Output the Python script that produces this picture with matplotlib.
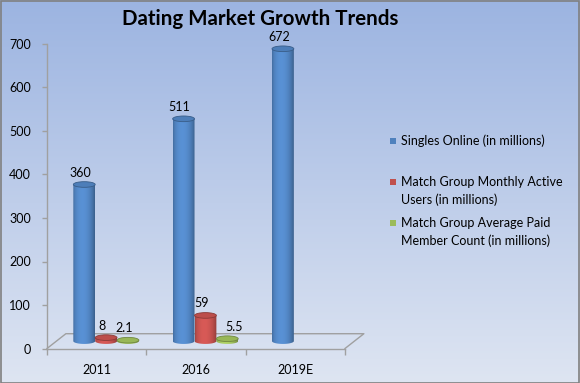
import numpy as np
import matplotlib
matplotlib.use("Agg")
import matplotlib.pyplot as plt
import matplotlib.colors as mcolors
from matplotlib.patches import Ellipse, Rectangle, PathPatch
from matplotlib.path import Path

# ---------------- data ----------------
categories = ["2011", "2016", "2019E"]
series_names = ["Singles Online (in millions)",
                "Match Group Monthly Active\nUsers (in millions)",
                "Match Group Average Paid\nMember Count (in millions)"]
singles_online = [360, 511, 672]
monthly_active = [8, 59, None]
paid_members = [2.1, 5.5, None]
y_ticks = [0, 100, 200, 300, 400, 500, 600, 700]
title = "Dating Market Growth Trends"

series_values = [singles_online, monthly_active, paid_members]
series_colors = ["#4F81BD", "#C0504D", "#9BBB59"]

# label placement nudges (pixels), keyed by (series index, category index)
label_nudge = {(2, 1): (11, 0)}

FONT = ["Lato", "DejaVu Sans"]
plt.rcParams["font.family"] = FONT
FS = 9

W, H = 580, 383
fig = plt.figure(figsize=(W / 100, H / 100), dpi=100)

# ---------------- background ----------------
bg = fig.add_axes([0, 0, 1, 1], zorder=-10)
bg.axis("off")
g = np.linspace(0, 1, 256)[:, None, None]
c_top = np.array(mcolors.to_rgb("#9CB4E1"))
c_bot = np.array(mcolors.to_rgb("#DEE5F2"))
bgimg = c_top * (1 - g) + c_bot * g
bgimg = np.repeat(bgimg, 2, axis=1)
bg.imshow(bgimg, aspect="auto", extent=[0, 1, 0, 1], interpolation="bilinear")
bg.set_xlim(0, 1)
bg.set_ylim(0, 1)
bg.add_patch(Rectangle((0.5 / W, 0.5 / H), 1 - 1.5 / W, 1 - 1.5 / H,
                       transform=bg.transAxes, fill=False,
                       edgecolor="#808080", lw=1.2))

# ---------------- main axes ----------------
x0_px, x1_px = 47, 345
y0_px, y1_px = 348.5, 44
ax = fig.add_axes([x0_px / W, (H - y0_px) / H, (x1_px - x0_px) / W, (y0_px - y1_px) / H])
ax.patch.set_visible(False)
XMIN, XMAX, YMIN, YMAX = -0.5, 2.5, 0, 700
ax.set_xlim(XMIN, XMAX)
ax.set_ylim(YMIN, YMAX)
for s in ["top", "right"]:
    ax.spines[s].set_visible(False)
axis_gray = "#A0A0A0"
for s in ["left", "bottom"]:
    ax.spines[s].set_color(axis_gray)
    ax.spines[s].set_linewidth(1.0)

ax.set_yticks(y_ticks)
ax.set_yticklabels([str(t) for t in y_ticks])
ax.tick_params(axis="y", length=3.5, width=1, color=axis_gray, pad=8,
               labelsize=FS, labelcolor="black")

n_cat = len(categories)
ax.set_xticks([i - 0.5 for i in range(n_cat + 1)])
ax.set_xticklabels([])
ax.tick_params(axis="x", which="major", length=4.5, width=1, color=axis_gray)
ax.set_xticks(list(range(n_cat)), minor=True)
ax.set_xticklabels(categories, minor=True)
ax.tick_params(axis="x", which="minor", length=0, pad=11, labelsize=FS,
               labelcolor="black")

# 3D floor (depth offsets in data units)
DX, DY = 0.19, 34
ax.plot([XMIN, XMIN + DX, XMAX + DX, XMAX], [0, DY, DY, 0],
        color=axis_gray, lw=1, clip_on=False, zorder=1)


def shade(color, n=64):
    base = np.array(mcolors.to_rgb(color))
    t = np.linspace(0, 1, n)
    # light centre slightly left of middle, dark edges
    f = 0.72 + 0.5 * np.clip(np.sin(np.pi * (t * 0.92 + 0.02)) ** 0.5, 0, 1) - 0.2 * t
    out = np.clip(base[None, :] * f[:, None], 0, 1)
    return out[None, :, :]


def cylinder(xc, base, top, w, eh, color, z):
    xl, xr = xc - w / 2, xc + w / 2
    th = np.linspace(np.pi, 2 * np.pi, 40)
    ex = xc + (w / 2) * np.cos(th)
    ey = base + (eh / 2) * np.sin(th)
    verts = [(xl, top)] + list(zip(ex, ey)) + [(xr, top), (xl, top)]
    codes = [Path.MOVETO] + [Path.LINETO] * (len(verts) - 2) + [Path.CLOSEPOLY]
    body = PathPatch(Path(verts, codes), facecolor="none", edgecolor="none",
                     zorder=z)
    ax.add_patch(body)
    im = ax.imshow(shade(color), extent=[xl, xr, base - eh / 2, top],
                   aspect="auto", interpolation="bilinear", zorder=z)
    im.set_clip_path(body)
    capc = np.array(mcolors.to_rgb(color))
    ax.add_patch(Ellipse((xc, top), w, eh, facecolor=np.clip(capc * 0.98, 0, 1),
                         edgecolor=np.clip(capc * 0.72, 0, 1), lw=0.6,
                         zorder=z + 0.1))


bar_w = 0.22
eh = 13
n_ser = len(series_values)
for si, vals in enumerate(series_values):
    for ci, v in enumerate(vals):
        if v is None:
            continue
        xc = ci + DX / 2 + (si - (n_ser - 1) / 2) * bar_w
        base = DY / 2
        top = base + v
        cylinder(xc, base, top, bar_w, eh, series_colors[si], 3 + si * 0.01 + ci)
        nx, ny = label_nudge.get((si, ci), (0, 0))
        ax.annotate(f"{v:g}", xy=(xc, top), xytext=(-4 + nx, 12 + ny),
                    textcoords="offset pixels", ha="center", va="center",
                    fontsize=FS, color="black", zorder=20, annotation_clip=False)

ax.set_xlim(XMIN, XMAX)
ax.set_ylim(YMIN, YMAX)

# ---------------- title ----------------
fig.text(260 / W, 1 - 19 / H, title, ha="center", va="center",
         fontsize=14.8, fontweight="bold", color="black")

# ---------------- legend ----------------
leg_first_line_y = [141, 182, 223]
line_step = 17.5
for si, name in enumerate(series_names):
    y = leg_first_line_y[si]
    fig.patches.append(Rectangle((390 / W, 1 - (y + 3) / H), 6 / W, 6 / H,
                                 transform=fig.transFigure,
                                 facecolor=series_colors[si], edgecolor="none"))
    for li, line in enumerate(name.split("\n")):
        fig.text(401 / W, 1 - (y + li * line_step) / H, line, ha="left",
                 va="center", fontsize=FS, color="black")

fig.savefig("out.png", dpi=100)
